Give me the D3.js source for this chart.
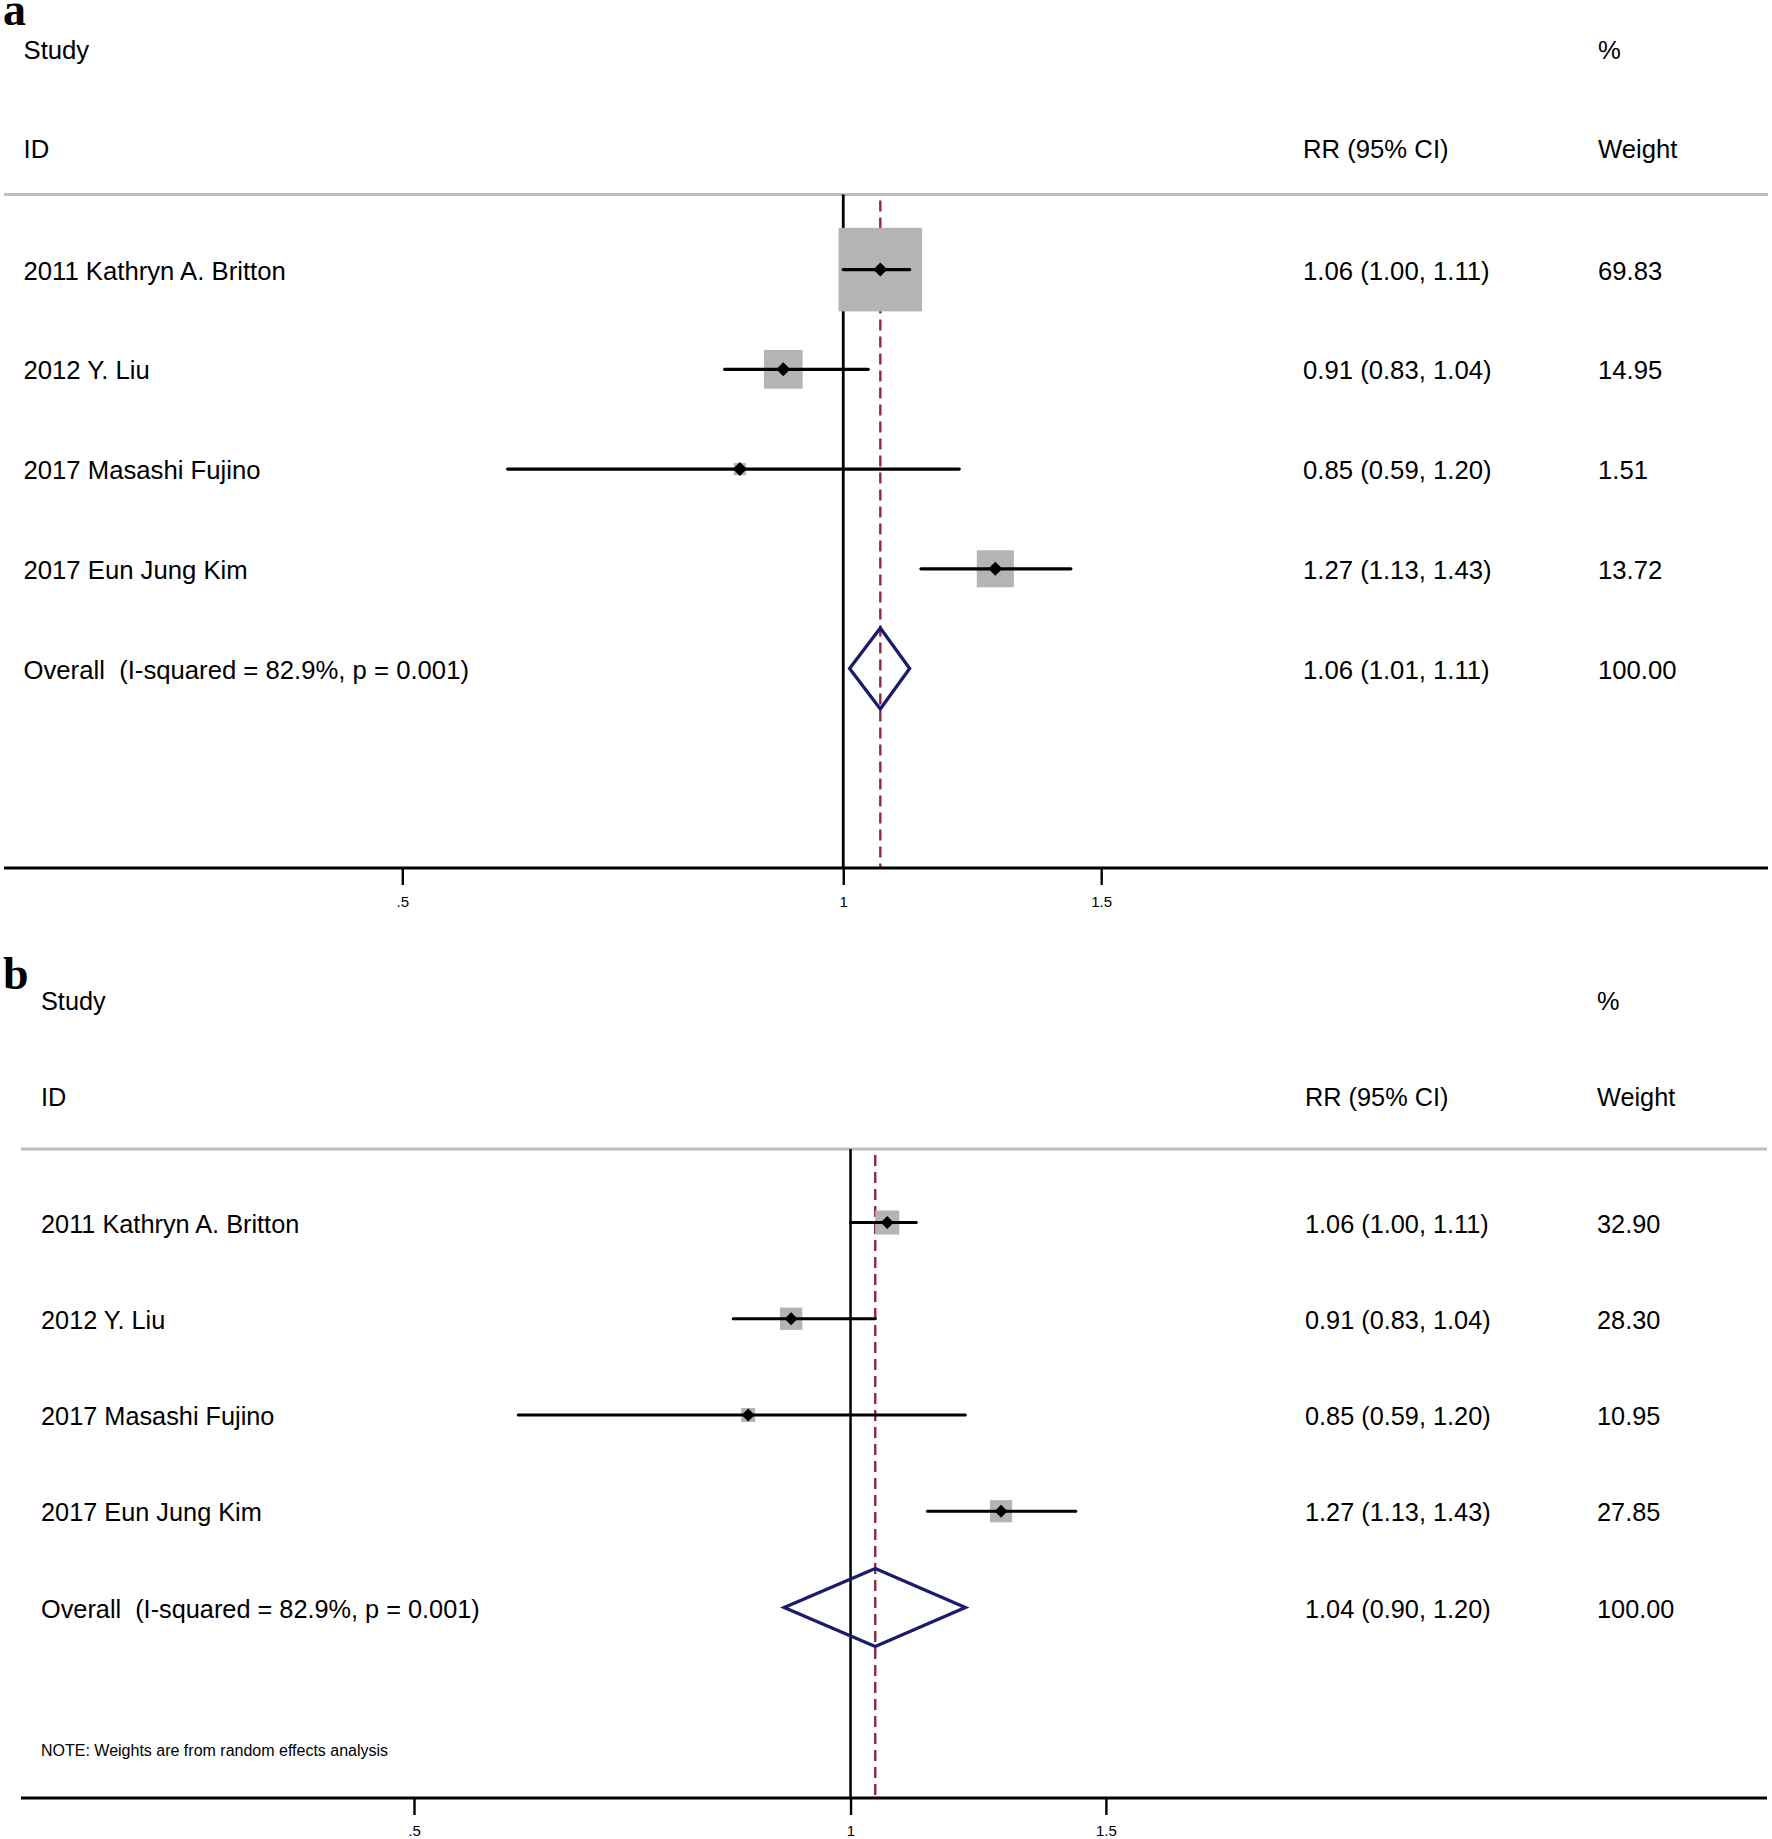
<!DOCTYPE html>
<html>
<head>
<meta charset="utf-8">
<script src="https://cdn.jsdelivr.net/npm/d3@7"></script>
<style>
  html, body { margin: 0; padding: 0; background: #fff; }
  svg { display: block; }
  text { font-family: "Liberation Sans", Arial, Helvetica, sans-serif; fill: #000; white-space: pre; }
</style>
</head>
<body>
<svg id="chart" width="1772" height="1839"></svg>
<script>
// ---------------- DATA ----------------
const studies = ["2011 Kathryn A. Britton", "2012 Y. Liu", "2017 Masashi Fujino", "2017 Eun Jung Kim"];
const rr      = [1.06, 0.91, 0.85, 1.27];
const ciLow   = [1.00, 0.83, 0.59, 1.13];
const ciHigh  = [1.11, 1.04, 1.20, 1.43];
const weightsA = [69.83, 14.95, 1.51, 13.72];   // panel a (fixed effects)
const weightsB = [32.90, 28.30, 10.95, 27.85];  // panel b (random effects)
const overallLabel = "Overall  (I-squared = 82.9%, p = 0.001)";
const overallA = [1.06, 1.01, 1.11];  // estimate, low, high
const overallB = [1.04, 0.90, 1.20];
const overallWeight = 100.00;
const tickValues = [0.5, 1, 1.5];
const tickLabels = [".5", "1", "1.5"];
const headers = { study: "Study", id: "ID", pct: "%", rr: "RR (95% CI)", weight: "Weight" };
const noteText = "NOTE: Weights are from random effects analysis";

// ---------------- LAYOUT ----------------
const svg = d3.select("#chart");
const f2 = d3.format(".2f");

const panels = [
  {
    letter: "a", letterX: 3, letterY: 25,
    weights: weightsA, overall: overallA,
    left: 4, right: 1768, textX: 23.5, rrX: 1303, wX: 1598,
    studyY: 59, idY: 158, sepY: 194.5,
    rowFirst: 269.6, rowLast: 668.5,
    axisY: 868, tickLabelY: 907,
    xRange: [402.3, 1101.2],
    boxK: 10.0, fontSize: 25.7, diamondHalf: 40.5,
    ciW: 3.3, nullW: 2.8, dot: 7,
    note: false
  },
  {
    letter: "b", letterX: 3, letterY: 989,
    weights: weightsB, overall: overallB,
    left: 21, right: 1767, textX: 41, rrX: 1305, wX: 1597,
    studyY: 1010, idY: 1106, sepY: 1149,
    rowFirst: 1222.5, rowLast: 1607.5,
    axisY: 1798, tickLabelY: 1836,
    xRange: [414, 1105.9],
    boxK: 4.2, fontSize: 25.3, diamondHalf: 39,
    ciW: 3, nullW: 2.5, dot: 6.5,
    note: true, noteY: 1756
  }
];

panels.forEach(p => {
  const g = svg.append("g");
  const x = d3.scaleLog().domain([tickValues[0], tickValues[tickValues.length - 1]]).range(p.xRange);
  const y = d3.scaleLinear().domain([0, studies.length]).range([p.rowFirst, p.rowLast]);

  // panel letter
  g.append("text").attr("x", p.letterX).attr("y", p.letterY)
    .style("font-family", "'Liberation Serif', 'Times New Roman', serif")
    .style("font-weight", "bold").style("font-size", "46px").text(p.letter);

  // headers
  const hs = p.fontSize + "px";
  g.append("text").attr("x", p.textX).attr("y", p.studyY).style("font-size", hs).text(headers.study);
  g.append("text").attr("x", p.textX).attr("y", p.idY).style("font-size", hs).text(headers.id);
  g.append("text").attr("x", p.wX).attr("y", p.studyY).style("font-size", hs).text(headers.pct);
  g.append("text").attr("x", p.rrX).attr("y", p.idY).style("font-size", hs).text(headers.rr);
  g.append("text").attr("x", p.wX).attr("y", p.idY).style("font-size", hs).text(headers.weight);

  // separator
  g.append("line").attr("x1", p.left).attr("x2", p.right).attr("y1", p.sepY).attr("y2", p.sepY)
    .attr("stroke", "#bdbdbd").attr("stroke-width", 3);

  // null line at 1
  g.append("line").attr("x1", x(1)).attr("x2", x(1)).attr("y1", p.sepY).attr("y2", p.axisY)
    .attr("stroke", "#000").attr("stroke-width", p.nullW);

  // overall dashed line
  g.append("line").attr("x1", x(p.overall[0])).attr("x2", x(p.overall[0]))
    .attr("y1", p.sepY + 6).attr("y2", p.axisY)
    .attr("stroke", "#8a2b3f").attr("stroke-width", 2.4).attr("stroke-dasharray", "11,6");

  // study rows
  studies.forEach((s, i) => {
    const cy = y(i);
    const side = p.boxK * Math.sqrt(p.weights[i]);
    g.append("rect").attr("x", x(rr[i]) - side / 2).attr("y", cy - side / 2)
      .attr("width", side).attr("height", side).attr("fill", "#b4b4b4");
    g.append("line").attr("x1", x(ciLow[i])).attr("x2", x(ciHigh[i])).attr("y1", cy).attr("y2", cy)
      .attr("stroke", "#000").attr("stroke-width", p.ciW).attr("stroke-linecap", "round");
    const d = p.dot, cx = x(rr[i]);
    g.append("path").attr("d", `M${cx - d},${cy}L${cx},${cy - d}L${cx + d},${cy}L${cx},${cy + d}Z`).attr("fill", "#000");

    g.append("text").attr("x", p.textX).attr("y", cy + 10).style("font-size", hs).text(s);
    g.append("text").attr("x", p.rrX).attr("y", cy + 10).style("font-size", hs)
      .text(`${f2(rr[i])} (${f2(ciLow[i])}, ${f2(ciHigh[i])})`);
    g.append("text").attr("x", p.wX).attr("y", cy + 10).style("font-size", hs).text(f2(p.weights[i]));
  });

  // overall diamond
  const oy = y(studies.length);
  const [oe, ol, oh] = p.overall;
  g.append("path")
    .attr("d", `M${x(ol)},${oy}L${x(oe)},${oy - p.diamondHalf}L${x(oh)},${oy}L${x(oe)},${oy + p.diamondHalf}Z`)
    .attr("fill", "none").attr("stroke", "#1b1a6c").attr("stroke-width", 3.3).attr("stroke-linejoin", "miter");
  g.append("text").attr("x", p.textX).attr("y", oy + 10).style("font-size", hs).text(overallLabel);
  g.append("text").attr("x", p.rrX).attr("y", oy + 10).style("font-size", hs)
    .text(`${f2(oe)} (${f2(ol)}, ${f2(oh)})`);
  g.append("text").attr("x", p.wX).attr("y", oy + 10).style("font-size", hs).text(f2(overallWeight));

  if (p.note) {
    g.append("text").attr("x", p.textX).attr("y", p.noteY).style("font-size", "16px").text(noteText);
  }

  // axis
  const axis = d3.axisBottom(x).tickValues(tickValues)
    .tickFormat((d, i) => tickLabels[i]).tickSize(17).tickPadding(6);
  const ag = g.append("g").attr("transform", `translate(0,${p.axisY})`).call(axis);
  ag.select(".domain").remove();
  ag.selectAll(".tick line").attr("stroke", "#000").attr("stroke-width", 2.4);
  ag.selectAll(".tick text").attr("y", p.tickLabelY - p.axisY).attr("dy", 0)
    .style("font-size", "15px").style("font-family", "'Liberation Sans', Arial, sans-serif").attr("fill", "#000");
  g.append("line").attr("x1", p.left).attr("x2", p.right).attr("y1", p.axisY).attr("y2", p.axisY)
    .attr("stroke", "#000").attr("stroke-width", 3);
});
</script>
</body>
</html>
